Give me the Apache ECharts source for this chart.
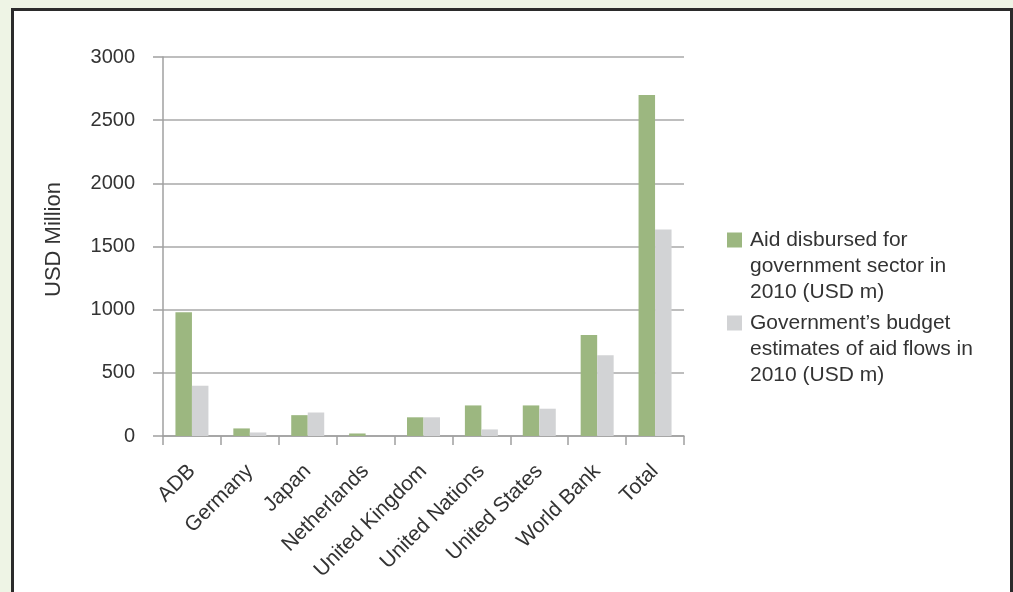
<!DOCTYPE html>
<html>
<head>
<meta charset="utf-8">
<script src="https://cdn.jsdelivr.net/npm/echarts@6/dist/echarts.min.js"></script>
<style>
  html, body { margin: 0; padding: 0; width: 1013px; height: 592px; overflow: hidden; background: #eef4e5; }
  #panel { position: absolute; left: 11px; top: 8px; width: 1002px; height: 700px; box-sizing: border-box;
           border: 3px solid #2b2b2b; background: #ffffff; }
  #chart { position: absolute; left: 0; top: 0; width: 1013px; height: 592px; }
</style>
</head>
<body>
<div id="panel"></div>
<div id="chart"></div>
<script>
const categories = ['ADB', 'Germany', 'Japan', 'Netherlands', 'United Kingdom', 'United Nations', 'United States', 'World Bank', 'Total'];
const aidDisbursed = [980, 60, 165, 20, 148, 242, 242, 800, 2700];
const budgetEstimates = [398, 28, 186, 0, 148, 52, 216, 640, 1635];
const seriesNames = ['Aid disbursed for government sector in 2010 (USD m)', 'Government\u2019s budget estimates of aid flows in 2010 (USD m)'];
const legendLabels = ['Aid disbursed for\ngovernment sector in\n2010 (USD m)', 'Government\u2019s budget\nestimates of aid flows in\n2010 (USD m)'];
const yTicks = [0, 500, 1000, 1500, 2000, 2500, 3000];
const yAxisTitle = 'USD Million';

const FONT = '"Liberation Sans", Arial, sans-serif';
const TXT = '#333333';
const chart = echarts.init(document.getElementById('chart'), null, { renderer: 'canvas' });

chart.setOption({
  backgroundColor: 'transparent',
  animation: false,
  textStyle: { fontFamily: FONT },
  legend: {
    data: seriesNames,
    orient: 'vertical',
    left: 727,
    top: 227,
    itemWidth: 15,
    itemHeight: 67,
    itemGap: 5,
    padding: 0,
    icon: 'path://M0,0H15V15H0Z M0,67H0.01V67.01H0Z',
    selectedMode: false,
    formatter: function (name) { return legendLabels[seriesNames.indexOf(name)]; },
    textStyle: { fontFamily: FONT, fontSize: 21, color: TXT, lineHeight: 26, padding: [0, 0, 0, 3] }
  },
  grid: { left: 163, right: 329, top: 57, bottom: 156, containLabel: false },
  xAxis: {
    type: 'category',
    data: categories,
    axisLine: { show: true, lineStyle: { color: '#a0a0a0', width: 1.5 } },
    axisTick: { show: true, length: 9, alignWithLabel: false, lineStyle: { color: '#a0a0a0', width: 1.5 } },
    axisLabel: { rotate: 45, margin: 32, fontFamily: FONT, fontSize: 21, color: TXT, interval: 0 },
    splitLine: { show: false }
  },
  yAxis: {
    type: 'value',
    min: yTicks[0],
    max: yTicks[yTicks.length - 1],
    interval: yTicks[1] - yTicks[0],
    name: yAxisTitle,
    nameLocation: 'middle',
    nameRotate: 90,
    nameGap: 98,
    nameTextStyle: { fontFamily: FONT, fontSize: 22, color: TXT, padding: [0, 0, 0, 14] },
    axisLine: { show: true, lineStyle: { color: '#a0a0a0', width: 1.5 } },
    axisTick: { show: true, length: 10, lineStyle: { color: '#a0a0a0', width: 1.5 } },
    axisLabel: { margin: 28, fontFamily: FONT, fontSize: 20, color: TXT, formatter: function (v) { return String(v); } },
    splitLine: { show: true, lineStyle: { color: '#a8a8a8', width: 1.5 } }
  },
  series: [
    { name: seriesNames[0], type: 'bar', data: aidDisbursed, itemStyle: { color: '#9cb780' }, barGap: '0%', barCategoryGap: '43%' },
    { name: seriesNames[1], type: 'bar', data: budgetEstimates, itemStyle: { color: '#d2d3d5' }, barGap: '0%', barCategoryGap: '43%' }
  ]
});
</script>
</body>
</html>
